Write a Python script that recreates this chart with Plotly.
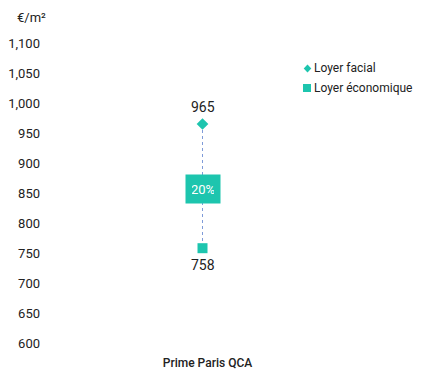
import plotly.graph_objects as go

# Data
categories = ["Prime Paris QCA"]
loyer_facial = [965]
loyer_economique = [758]
avantage_pct = ["20%"]
legend_names = ["Loyer facial", "Loyer économique"]

teal = "#1DC5AE"
dash_col = "#7F9BD8"
txt = "#222222"
title_col = "#4A7BD0"
font_family = "Roboto, Arial, sans-serif"

W, H = 430, 370
ML, MR, MT, MB = 50, 75, 43, 27
PW, PH = W - ML - MR, H - MT - MB


def px(x):
    """pixel column -> paper x"""
    return (x - ML) / PW


def py(y):
    """pixel row -> paper y"""
    return (H - MB - y) / PH


fig = go.Figure()

# dashed connector between the two rents
for c, hi, lo in zip(categories, loyer_facial, loyer_economique):
    fig.add_trace(go.Scatter(
        x=[c, c], y=[hi, lo], mode="lines",
        line=dict(color=dash_col, width=1, dash="3px,3px"),
        showlegend=False, hoverinfo="skip",
    ))

fig.add_trace(go.Scatter(
    x=categories, y=loyer_facial, name=legend_names[0], mode="markers",
    marker=dict(symbol="diamond", size=9, color=teal), showlegend=False,
))
fig.add_trace(go.Scatter(
    x=categories, y=loyer_economique, name=legend_names[1], mode="markers",
    marker=dict(symbol="square", size=10, color=teal), showlegend=False,
))

# value labels above / below the markers
for c, hi, lo in zip(categories, loyer_facial, loyer_economique):
    fig.add_annotation(x=c, y=hi, text=str(hi), showarrow=False, yshift=17,
                       font=dict(size=14, color=txt, family=font_family))
    fig.add_annotation(x=c, y=lo, text=str(lo), showarrow=False, yshift=-16.5,
                       font=dict(size=14, color=txt, family=font_family))

# incentive label box between the two rents
for c, hi, lo, p in zip(categories, loyer_facial, loyer_economique, avantage_pct):
    fig.add_annotation(
        x=c, y=(hi + lo) / 2, text=p, showarrow=False, yshift=-3,
        font=dict(size=13, color="white", family=font_family),
        bgcolor=teal, borderpad=6, width=22, height=16,
    )

# compact legend: small symbols set tight against their labels
leg_rows = [68.5, 88]
cx = 307.5
fig.add_shape(type="path", xref="paper", yref="paper",
              path="M {0},{1} L {2},{3} L {0},{4} L {5},{3} Z".format(
                  px(cx), py(leg_rows[0] - 4), px(cx + 3.8),
                  py(leg_rows[0]), py(leg_rows[0] + 4), px(cx - 3.8)),
              fillcolor=teal, line=dict(width=0))
fig.add_shape(type="rect", xref="paper", yref="paper",
              x0=px(303), x1=px(311),
              y0=py(leg_rows[1] - 4), y1=py(leg_rows[1] + 4),
              fillcolor=teal, line=dict(width=0))
for name, row in zip(legend_names, leg_rows):
    fig.add_annotation(
        xref="paper", yref="paper", x=px(312), y=py(row),
        xanchor="left", yanchor="middle", text=name, showarrow=False,
        font=dict(size=12, color=txt, family=font_family),
    )

# unit label
fig.add_annotation(
    xref="paper", yref="paper", x=px(31), y=py(17),
    xanchor="center", yanchor="middle", text="€/m²", showarrow=False,
    font=dict(size=13, color=txt, family=font_family),
)

# chart title, set high so it runs off the top edge
fig.add_annotation(
    xref="paper", yref="paper", x=px(415), y=py(0.5),
    xanchor="right", yanchor="bottom", text="Taux d'accompagnement QCA (2024)",
    showarrow=False, borderpad=0,
    font=dict(size=20, color=title_col, family=font_family),
)

fig.update_layout(
    width=W, height=H,
    margin=dict(l=ML, r=MR, t=MT, b=MB, autoexpand=False),
    paper_bgcolor="white", plot_bgcolor="white",
    font=dict(family=font_family, size=13, color=txt),
    showlegend=False,
    xaxis=dict(
        showgrid=False, zeroline=False, showline=False, ticks="",
        ticklabelstandoff=11, ticklabelshift=5, automargin=False,
        tickfont=dict(size=12, color=txt, weight=500),
    ),
    yaxis=dict(
        range=[600, 1100], dtick=50, tickformat=",",
        showgrid=False, zeroline=False, showline=False, ticks="",
        ticklabelstandoff=9, automargin=False,
        tickfont=dict(size=13, color=txt),
    ),
)

fig.write_html("out.html")
